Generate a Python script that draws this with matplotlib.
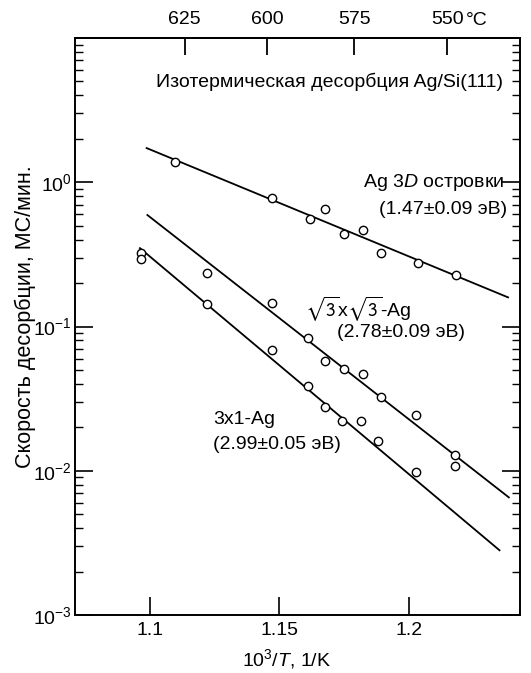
import numpy as np
import matplotlib.pyplot as plt

plt.rcParams['font.family'] = ['Liberation Sans', 'DejaVu Sans']
plt.rcParams['mathtext.fontset'] = 'custom'
plt.rcParams['mathtext.rm'] = 'Liberation Sans'
plt.rcParams['mathtext.it'] = 'Liberation Sans:italic'
plt.rcParams['font.size'] = 14

# measured desorption rates (ML/min) vs 1000/T
x_3d = [1.1097, 1.1472, 1.1618, 1.1676, 1.1749, 1.1824, 1.1891, 1.2036, 1.2184]
y_3d = [1.38, 0.773, 0.552, 0.653, 0.436, 0.464, 0.325, 0.277, 0.226]

x_r3 = [1.1219, 1.1472, 1.1611, 1.1678, 1.1749, 1.1824, 1.1891, 1.2027, 1.2180, 1.2180]
y_r3 = [0.234, 0.146, 0.0828, 0.0576, 0.0510, 0.0471, 0.0327, 0.0242, 0.0128, 0.0108]

x_3x1 = [1.0965, 1.0965, 1.1219, 1.1472, 1.1609, 1.1678, 1.1744, 1.1817, 1.1881, 1.2027]
y_3x1 = [0.325, 0.294, 0.144, 0.0682, 0.0387, 0.0276, 0.0222, 0.0222, 0.0162, 0.00984]

# Arrhenius fits: activation energy (eV), log10 prefactor, fit range in 1000/T
energies = [1.47, 2.78, 2.99]
log_prefactors = [8.377, 15.171, 16.061]
fit_ranges = [(1.0987, 1.2384), (1.099, 1.2387), (1.0961, 1.2351)]

temps_c = [625, 600, 575, 550]

k_B = 8.617e-5

fig = plt.figure(figsize=(5.31, 6.73), dpi=100)
ax = fig.add_axes([0.1412, 0.0862, 0.8380, 0.8573])

for (x0, x1), ea, la in zip(fit_ranges, energies, log_prefactors):
    xx = np.linspace(x0, x1, 50)
    yy = 10 ** (la - ea * xx / (1000 * k_B * np.log(10)))
    ax.plot(xx, yy, color='black', lw=1.3)

for xs, ys in [(x_3d, y_3d), (x_r3, y_r3), (x_3x1, y_3x1)]:
    ax.plot(xs, ys, 'o', mfc='white', mec='black', ms=6, mew=1.0)

ax.set_yscale('log')
ax.set_xlim(1.071, 1.243)
ax.set_ylim(1e-3, 1e1)
ax.set_xticks([1.1, 1.15, 1.2])
ax.set_xticklabels(['1.1', '1.15', '1.2'])
ax.set_yticks([1e-3, 1e-2, 1e-1, 1e0])
ax.tick_params(axis='y', which='major', direction='in', length=13, width=1.2,
               left=True, right=True, pad=2)
ax.tick_params(axis='y', which='minor', direction='in', length=6, width=1.0,
               left=True, right=True)
ax.tick_params(axis='x', which='major', direction='in', length=13, width=1.2,
               top=False, pad=5)
ax.tick_params(axis='x', which='minor', bottom=False, top=False)
for s in ax.spines.values():
    s.set_linewidth(1.4)

ax.set_xlabel(r'10$^3$/$\mathit{T}$, 1/K')
ax.xaxis.set_label_coords(0.476, -0.056)
ax.set_ylabel('Скорость десорбции, МС/мин.', fontsize=15.5)
ax.yaxis.set_label_coords(-0.088, 0.517)

# temperature scale on top (same 1000/T coordinate, labelled in °C)
top = ax.secondary_xaxis('top', functions=(lambda v: v, lambda v: v))
top.set_xticks([1000 / (t + 273.15) for t in temps_c])
top.set_xticklabels([str(t) for t in temps_c])
top.tick_params(axis='x', which='major', direction='in', length=12, width=1.3, pad=7)
top.tick_params(axis='x', which='minor', length=0)
top.spines['top'].set_linewidth(1.4)
ax.text(0.878, 1.031, '°C', transform=ax.transAxes, ha='left', va='center')

ax.text(0.5715, 0.924, 'Изотермическая десорбция Ag/Si(111)', transform=ax.transAxes,
        ha='center', va='center')
ax.text(0.966, 0.749, r'Ag $\mathit{3D}$ островки', transform=ax.transAxes,
        ha='right', va='center')
ax.text(0.971, 0.702, '(%.2f±0.09 эВ)' % energies[0], transform=ax.transAxes,
        ha='right', va='center')
ax.text(0.517, 0.529, r'$\sqrt{3}$x$\sqrt{3}$-Ag', transform=ax.transAxes,
        ha='left', va='center', math_fontfamily='stixsans')
ax.text(0.589, 0.489, '(%.2f±0.09 эВ)' % energies[1], transform=ax.transAxes,
        ha='left', va='center')
ax.text(0.310, 0.338, '3x1-Ag', transform=ax.transAxes, ha='left', va='center')
ax.text(0.310, 0.295, '(%.2f±0.05 эВ)' % energies[2], transform=ax.transAxes,
        ha='left', va='center')

fig.savefig('out.png', dpi=100)
